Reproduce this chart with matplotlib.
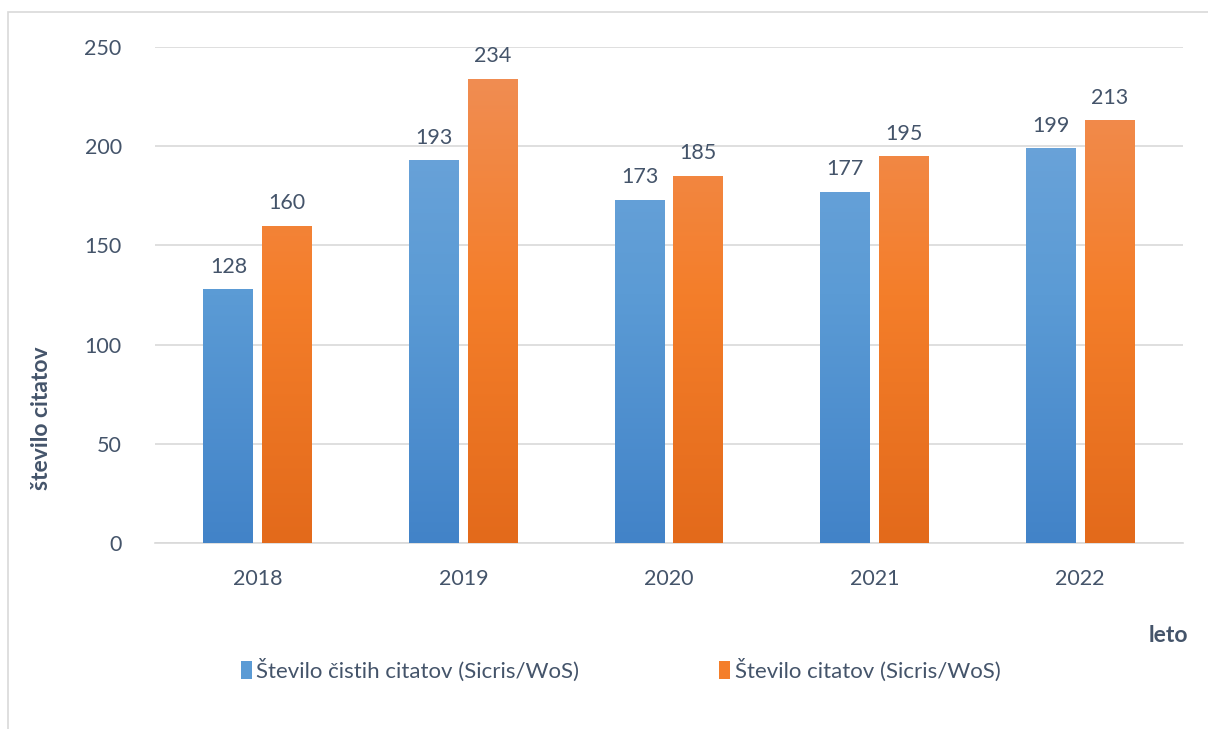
import numpy as np
import matplotlib.pyplot as plt
from matplotlib.colors import LinearSegmentedColormap
from matplotlib.patches import Rectangle

years = ["2018", "2019", "2020", "2021", "2022"]
ciste = [128, 193, 173, 177, 199]
vse = [160, 234, 185, 195, 213]
labels = ["Število čistih citatov (Sicris/WoS)", "Število citatov (Sicris/WoS)"]

text_col = "#44546A"
grid_col = "#D9D9D9"
blue_grad = ["#4283C8", "#5B9BD5", "#72A7DB"]
orange_grad = ["#E36A1B", "#F47E2A", "#F08F58"]

plt.rcParams["font.family"] = ["Lato", "DejaVu Sans"]

fig = plt.figure(figsize=(12.08, 7.29), dpi=100)
ax = fig.add_axes([155 / 1208, 1 - 543 / 729, 1028 / 1208, 496 / 729])

# light frame around chart area
fig.patches.append(Rectangle((8 / 1208, -0.05), 1.2, 1 - 12 / 729 + 0.05,
                             transform=fig.transFigure, fill=False,
                             edgecolor=grid_col, linewidth=1.2))

x = np.arange(len(years))
w = 0.243
off = 0.143


def gradient_bars(xpos, vals, colours, label):
    bars = ax.bar(xpos, vals, w, color=colours[1], label=label, zorder=2)
    cmap = LinearSegmentedColormap.from_list("g", colours)
    grad = np.linspace(0, 1, 256).reshape(-1, 1)
    for b in bars:
        bx = b.get_x()
        im = ax.imshow(grad, cmap=cmap, origin="lower", aspect="auto",
                       extent=[bx, bx + b.get_width(), 0, 250], zorder=3)
        im.set_clip_path(b)
    ax.bar_label(bars, padding=9, fontsize=15.5, color=text_col)
    return bars


gradient_bars(x - off, ciste, blue_grad, labels[0])
gradient_bars(x + off, vse, orange_grad, labels[1])

ax.set_xlim(-0.5, 4.5)
ax.set_ylim(0, 250)
ax.set_yticks(np.arange(0, 251, 50))
ax.set_xticks(x)
ax.set_xticklabels(years)
ax.tick_params(length=0, labelsize=15.5, labelcolor=text_col)
ax.tick_params(axis="y", pad=24)
ax.tick_params(axis="x", pad=19)
ax.grid(axis="y", color=grid_col, linewidth=1.2, zorder=0)
ax.set_axisbelow(True)
for s in ["top", "right", "left"]:
    ax.spines[s].set_visible(False)
ax.spines["bottom"].set_color(grid_col)
ax.spines["bottom"].set_linewidth(1.2)

ax.set_ylabel("število citatov", fontsize=16.5, fontweight="bold", color=text_col)
ax.yaxis.set_label_coords(-0.1, 0.252)
ax.set_xlabel("leto", fontsize=16.5, fontweight="bold", color=text_col)
ax.xaxis.set_label_coords(0.986, -0.165)

leg = fig.legend(loc="center", bbox_to_anchor=(0.5137, 0.081), ncol=2,
                 frameon=False, fontsize=16, handlelength=0.5, handleheight=0.85,
                 handletextpad=0.2, columnspacing=6.3, labelcolor=text_col)

fig.savefig("out.png", dpi=100)
